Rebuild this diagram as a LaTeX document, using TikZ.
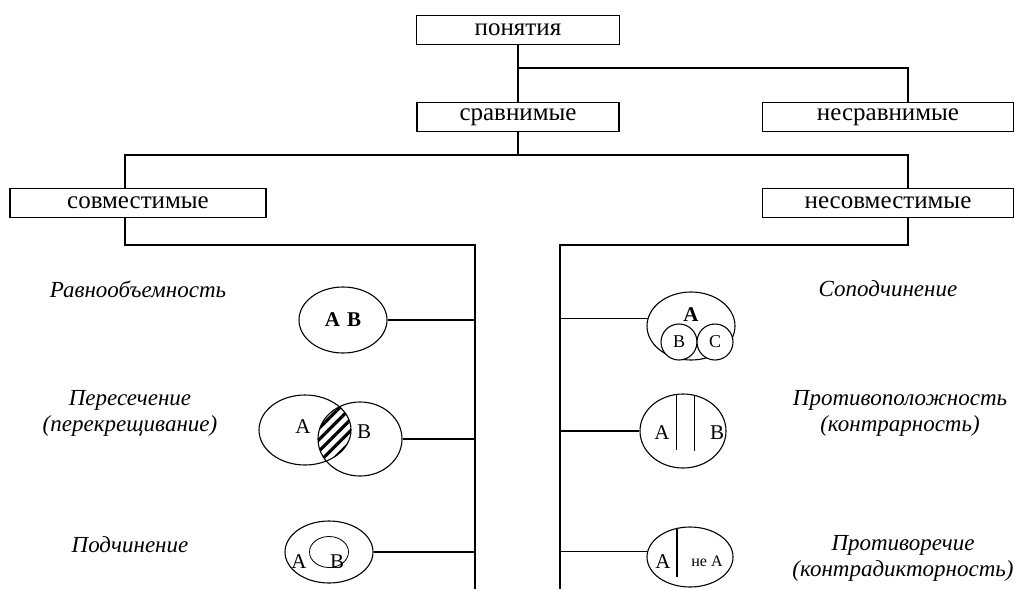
\documentclass[tikz,border=0pt]{standalone}
\usepackage{fontspec}
\setmainfont{Liberation Serif}
\usetikzlibrary{calc, shapes.geometric, patterns.meta}

\begin{document}
\begin{tikzpicture}[x=1pt, y=-1pt, line width=1.1pt,
    box/.style={draw, rectangle, inner sep=0pt, minimum height=29pt,
        font=\fontsize{25}{27}\selectfont},
    oval/.style={draw, ellipse, inner sep=0pt},
    ring/.style={draw, circle, fill=white, inner sep=0pt, minimum size=36pt,
        font=\fontsize{18}{20}\selectfont},
    letter/.style={inner sep=0pt, font=\fontsize{21}{23}\selectfont},
    kind/.style={align=center, font=\fontsize{23}{26}\selectfont\itshape}]

    \useasboundingbox (0, 0) rectangle (1016, 589);

    % tree of concepts
    \node[box, minimum width=203pt] (ponyatiya) at (518, 30) {понятия};
    \node[box, minimum width=202pt] (sravn) at (518, 117) {сравнимые};
    \node[box, minimum width=251pt] (nesravn) at (888, 117) {несравнимые};
    \node[box, minimum width=256pt] (sovm) at (138, 203) {совместимые};
    \node[box, minimum width=251pt] (nesovm) at (888, 203) {несовместимые};

    \coordinate (j1) at (518, 68);
    \coordinate (j2) at (518, 155);
    \coordinate (lt) at (475, 245);
    \coordinate (lb) at (475, 589);
    \coordinate (rt) at (560, 245);
    \coordinate (rb) at (560, 589);

    \draw (ponyatiya.south) -- (sravn.north);
    \draw (j1) -| ($(nesravn.north)+(20, 0)$);
    \draw (sravn.south) -- (j2);
    \draw (j2) -| ($(sovm.north)+(-13, 0)$);
    \draw (j2) -| ($(nesovm.north)+(20, 0)$);
    \draw ($(sovm.south)+(-13, 0)$) |- (lt) -- (lb);
    \draw ($(nesovm.south)+(20, 0)$) |- (rt) -- (rb);

    % compatible
    \node[kind] (ravnL) at (138, 289) {Равнообъемность};
    \node[oval, minimum width=88pt, minimum height=66pt,
        font=\fontsize{21}{23}\selectfont\bfseries] (ravn) at (343, 320) {A\hspace{7pt}B};
    \draw (ravn.east) -- (ravn.east -| lt);

    \node[kind] (perL) at (130, 413) {Пересечение\\(перекрещивание)};
    \node[oval, minimum width=92pt, minimum height=70pt] (perA) at (305, 430) {};
    \node[oval, minimum width=84pt, minimum height=74pt] (perB) at (360, 439) {};
    \begin{scope}
        \clip (perA.center) ellipse [x radius=46pt, y radius=35pt];
        \fill[pattern={Lines[angle=45, distance=8pt, line width=3.2pt]}]
            (perB.center) ellipse [x radius=42pt, y radius=37pt];
    \end{scope}
    \node[letter] (perAl) at (303, 427) {A};
    \node[letter] (perBl) at (364, 432) {B};
    \draw (perB.east) -- (perB.east -| lt);

    \node[kind] (podL) at (130, 545) {Подчинение};
    \node[oval, minimum width=88pt, minimum height=62pt] (pod) at (329, 552) {};
    \node[oval, minimum width=39pt, minimum height=31pt, line width=0.8pt] (podIn) at (329, 552) {};
    \node[letter] (podA) at (299, 562) {A};
    \node[letter] (podB) at (337, 562) {B};
    \draw (pod.east) -- (pod.east -| lt);

    % incompatible
    \node[kind] (sopL) at (888, 289) {Соподчинение};
    \node[oval, minimum width=88pt, minimum height=68pt] (sop) at (691, 326) {};
    \node[letter, font=\fontsize{21}{23}\selectfont\bfseries] (sopA) at (691, 315) {A};
    \node[ring] (sopB) at (679, 342) {B};
    \node[ring] (sopC) at (715, 342) {C};
    \draw (sop.170) -- (sop.170 -| rt);

    \node[kind] (protL) at (900, 413) {Противоположность\\(контрарность)};
    \node[oval, minimum width=86pt, minimum height=74pt] (prot) at (683, 431) {};
    \draw (prot.100.9) -- ++(0, 56);
    \draw (prot.73.2) -- ++(0, 56);
    \node[letter] (protA) at (662, 433) {A};
    \node[letter] (protB) at (717, 433) {B};
    \draw (prot.west) -- (prot.west -| rt);

    \node[kind] (protrL) at (903, 558) {Противоречие\\(контрадикторность)};
    \node[oval, minimum width=86pt, minimum height=60pt] (protr) at (690, 557) {};
    \draw (protr.114.4) -- ++(0, 49);
    \node[letter] (protrA) at (663, 562) {A};
    \node[letter, font=\fontsize{16}{18}\selectfont] (protrN) at (707, 561) {не A};
    \draw (protr.173) -- (protr.173 -| rt);

\end{tikzpicture}
\end{document}
